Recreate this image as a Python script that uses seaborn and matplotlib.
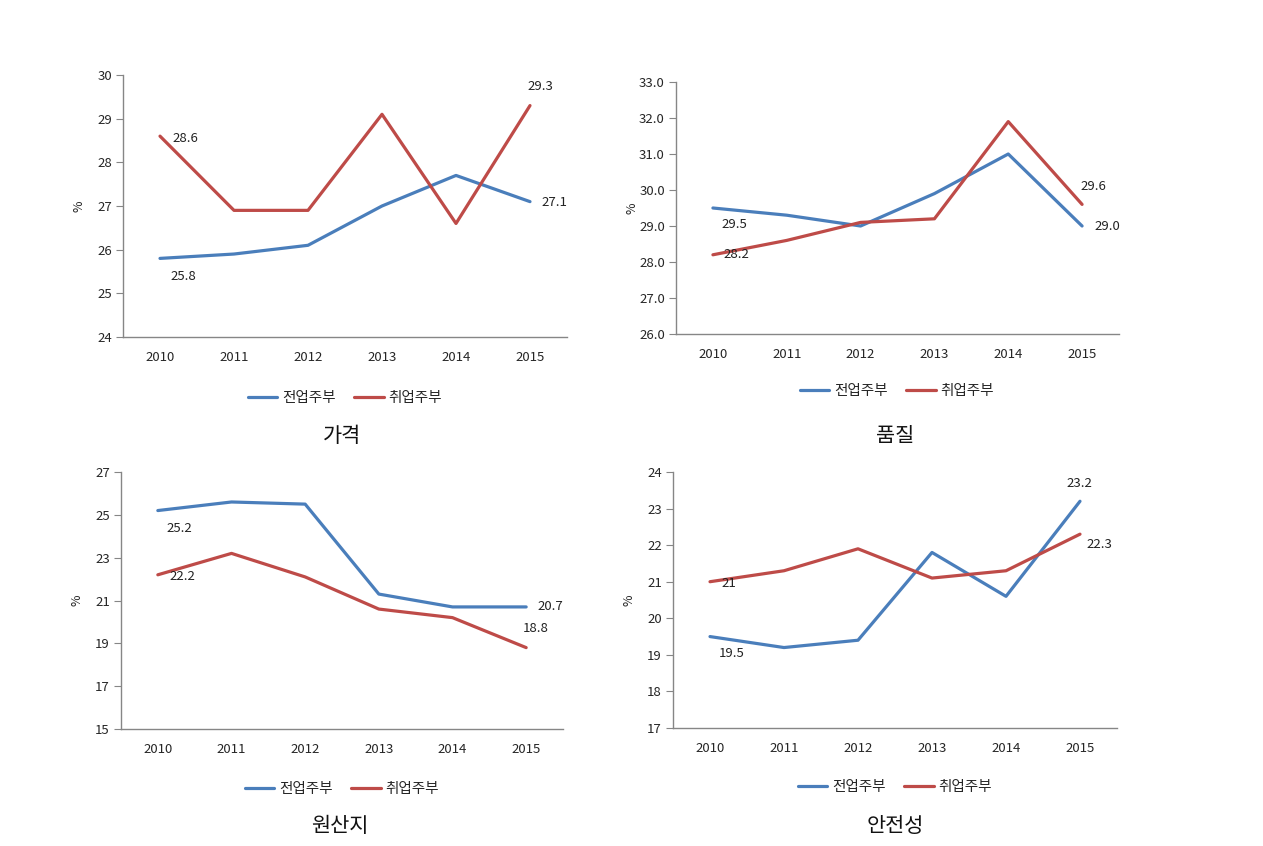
import numpy as np
import pandas as pd
import matplotlib
matplotlib.use("Agg")
import matplotlib.pyplot as plt
import seaborn as sns
from matplotlib.lines import Line2D

sns.set_style("white")
plt.rcParams['font.family'] = ['Noto Sans CJK KR', 'DejaVu Sans']

years = ["2010", "2011", "2012", "2013", "2014", "2015"]
series_names = ["전업주부", "취업주부"]

price_full = [25.8, 25.9, 26.1, 27.0, 27.7, 27.1]
price_work = [28.6, 26.9, 26.9, 29.1, 26.6, 29.3]
quality_full = [29.5, 29.3, 29.0, 29.9, 31.0, 29.0]
quality_work = [28.2, 28.6, 29.1, 29.2, 31.9, 29.6]
origin_full = [25.2, 25.6, 25.5, 21.3, 20.7, 20.7]
origin_work = [22.2, 23.2, 22.1, 20.6, 20.2, 18.8]
safety_full = [19.5, 19.2, 19.4, 21.8, 20.6, 23.2]
safety_work = [21.0, 21.3, 21.9, 21.1, 21.3, 22.3]

titles = ["가격", "품질", "원산지", "안전성"]

colors = {"전업주부": "#4A7EBB", "취업주부": "#BE4B48"}
axis_color = "#868686"

# (left, bottom, width, height) in figure fraction
panels = [
    dict(title="가격", full=price_full, work=price_work,
         rect=(123/1263, 1-337/846, 444/1263, 262/846),
         yticks=np.arange(24, 31, 1), fmt="{:.0f}",
         labels=[("work", 0, "28.6", (25, -2)), ("full", 0, "25.8", (23, -18)),
                 ("work", 5, "29.3", (10, 19)), ("full", 5, "27.1", (24, -1))],
         legend=(345/1263, 1-398/846), tpos=(342/1263, 1-436/846)),
    dict(title="품질", full=quality_full, work=quality_work,
         rect=(676/1263, 1-334/846, 443/1263, 252/846),
         yticks=np.arange(26, 33.5, 1), fmt="{:.1f}",
         labels=[("full", 0, "29.5", (21, -17)), ("work", 0, "28.2", (24, 0)),
                 ("work", 5, "29.6", (11, 18)), ("full", 5, "29.0", (25, -1))],
         legend=(897/1263, 1-391/846), tpos=(895/1263, 1-436/846)),
    dict(title="원산지", full=origin_full, work=origin_work,
         rect=(121/1263, 1-729/846, 442/1263, 257/846),
         yticks=np.arange(15, 28, 2), fmt="{:.0f}",
         labels=[("full", 0, "25.2", (22, -18)), ("work", 0, "22.2", (25, -2)),
                 ("full", 5, "20.7", (24, 0)), ("work", 5, "18.8", (10, 19))],
         legend=(342/1263, 1-789/846), tpos=(340/1263, 1-826/846)),
    dict(title="안전성", full=safety_full, work=safety_work,
         rect=(673/1263, 1-728/846, 444/1263, 256/846),
         yticks=np.arange(17, 25, 1), fmt="{:.0f}",
         labels=[("work", 0, "21", (19, -2)), ("full", 0, "19.5", (22, -17)),
                 ("full", 5, "23.2", (-1, 18)), ("work", 5, "22.3", (19, -10))],
         legend=(895/1263, 1-787/846), tpos=(895/1263, 1-826/846)),
]

fig = plt.figure(figsize=(12.63, 8.46), dpi=100)

for p in panels:
    ax = fig.add_axes(p["rect"])
    df = pd.DataFrame({
        "year": list(range(len(years))) * 2,
        "value": p["full"] + p["work"],
        "group": [series_names[0]] * len(years) + [series_names[1]] * len(years),
    })
    sns.lineplot(data=df, x="year", y="value", hue="group", palette=colors,
                 linewidth=2.3, ax=ax, legend=False)

    ax.set_xlim(-0.5, len(years) - 0.5)
    ax.set_ylim(p["yticks"][0], p["yticks"][-1])
    ax.set_yticks(p["yticks"])
    ax.set_yticklabels([p["fmt"].format(v) for v in p["yticks"]], fontsize=9.5)
    ax.set_xticks(range(len(years)))
    ax.set_xticklabels(years, fontsize=9.5)
    ax.set_xticks(np.arange(-0.5, len(years), 1), minor=True)
    ax.tick_params(axis="x", which="major", length=0, pad=10)
    ax.tick_params(axis="x", which="minor", length=5, color=axis_color, direction="out")
    ax.tick_params(axis="y", length=5, color=axis_color, direction="out", pad=3, left=True)
    ax.set_xlabel("")
    ax.set_ylabel("%", fontsize=9)
    ax.yaxis.set_label_coords(-0.085, 0.5)
    for s in ["top", "right"]:
        ax.spines[s].set_visible(False)
    for s in ["left", "bottom"]:
        ax.spines[s].set_color(axis_color)
        ax.spines[s].set_linewidth(1.0)

    for which, i, txt, off in p["labels"]:
        vals = p["full"] if which == "full" else p["work"]
        ax.annotate(txt, xy=(i, vals[i]), xytext=off, textcoords="offset pixels",
                    ha="center", va="center", fontsize=9.5, color="#222222")

    handles = [Line2D([0], [0], color=colors[n], lw=2.3) for n in series_names]
    fig.legend(handles, series_names, loc="center", bbox_to_anchor=p["legend"],
               ncol=2, frameon=False, fontsize=10.5, handlelength=2.0,
               handletextpad=0.35, columnspacing=1.3)
    fig.text(p["tpos"][0], p["tpos"][1], p["title"], ha="center", va="center",
             fontsize=15, color="#111111")

fig.savefig("out.png", dpi=100)
